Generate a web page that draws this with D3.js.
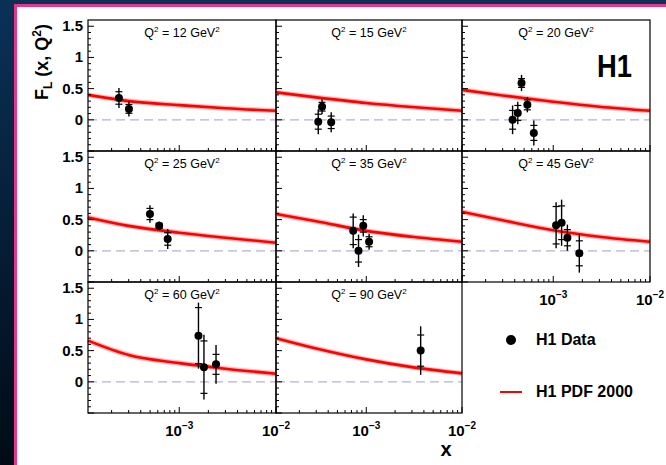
<!DOCTYPE html>
<html><head><meta charset="utf-8">
<script src="https://cdn.jsdelivr.net/npm/d3@7"></script>
<style>
html,body{margin:0;padding:0;background:#fff;}
svg{display:block;}
text{font-family:"Liberation Sans",Arial,Helvetica,sans-serif;}
</style></head>
<body>
<svg id="chart" width="666" height="465"></svg>
<script>
// ---- data ----
const q2Values = [12, 15, 20, 25, 35, 45, 60, 90];
const dataX = [
  [2.38e-4, 3.02e-4],
  [3.15e-4, 3.45e-4, 4.3e-4],
  [3.8e-4, 4.3e-4, 4.7e-4, 5.4e-4, 6.3e-4],
  [4.98e-4, 6.2e-4, 7.6e-4],
  [7.3e-4, 8.3e-4, 9.3e-4, 1.07e-3],
  [1.07e-3, 1.22e-3, 1.4e-3, 1.86e-3],
  [1.58e-3, 1.8e-3, 2.4e-3],
  [3.7e-3]
];
const dataFL = [
  [0.35, 0.175],
  [-0.03, 0.21, -0.04],
  [0.0, 0.11, 0.59, 0.24, -0.21],
  [0.59, 0.40, 0.19],
  [0.32, 0.0, 0.40, 0.145],
  [0.41, 0.45, 0.21, -0.04],
  [0.74, 0.235, 0.28],
  [0.50]
];
const statErr = [
  [0.10, 0.07],
  [0.12, 0.07, 0.10],
  [0.15, 0.12, 0.07, 0.08, 0.12],
  [0.09, 0.04, 0.10],
  [0.22, 0.18, 0.10, 0.08],
  [0.30, 0.27, 0.13, 0.20],
  [0.45, 0.42, 0.16],
  [0.25]
];
const totErr = [
  [0.16, 0.12],
  [0.20, 0.12, 0.16],
  [0.23, 0.18, 0.13, 0.12, 0.20],
  [0.14, 0.07, 0.16],
  [0.28, 0.26, 0.17, 0.13],
  [0.37, 0.37, 0.21, 0.31],
  [0.53, 0.52, 0.31],
  [0.39]
];
const theoryX = [1.14e-4, 3e-4, 1e-3, 3e-3, 1e-2];
const theoryFL = [
  [0.40, 0.30, 0.235, 0.185, 0.145],
  [0.44, 0.36, 0.27, 0.205, 0.145],
  [0.48, 0.39, 0.29, 0.21, 0.145],
  [0.535, 0.40, 0.29, 0.21, 0.13],
  [0.59, 0.475, 0.32, 0.225, 0.145],
  [0.625, 0.49, 0.33, 0.225, 0.145],
  [0.66, 0.43, 0.30, 0.21, 0.13],
  [0.70, 0.535, 0.36, 0.235, 0.135]
];
const yTickLabels = ["0", "0.5", "1", "1.5"];
const yTickValues = [0, 0.5, 1, 1.5];
const xTickExps = [-3, -2];
const legendLabels = ["H1 Data", "H1 PDF 2000"];

// ---- layout ----
const svg = d3.select("#chart");
const defs = svg.append("defs");
const grad = defs.append("linearGradient").attr("id","bg").attr("x1",0).attr("y1",0).attr("x2",0).attr("y2",1);
grad.append("stop").attr("offset","0%").attr("stop-color","#0b3157");
grad.append("stop").attr("offset","100%").attr("stop-color","#000b17");
svg.append("rect").attr("width",666).attr("height",465).attr("fill","url(#bg)");
svg.append("rect").attr("x",14).attr("y",4).attr("width",652).attr("height",461).attr("fill","#e8358c");
svg.append("rect").attr("x",17).attr("y",7).attr("width",649).attr("height",458).attr("fill","#ffffff");

const colX = [88, 276, 462], colW = [188, 186, 188];
const rowY = [20, 151, 282], rowH = 131;
const yDomain = [-0.5, 1.6];
const xDomain = [1.14e-4, 1e-2];

q2Values.forEach((q2, i) => {
  const row = Math.floor(i / 3), col = i % 3;
  const x0 = colX[col], w = colW[col], y0 = rowY[row];
  const x = d3.scaleLog().domain(xDomain).range([x0, x0 + w]);
  const y = d3.scaleLinear().domain(yDomain).range([y0 + rowH, y0]);
  const g = svg.append("g");

  // zero dashed line
  g.append("line").attr("x1",x0).attr("x2",x0+w).attr("y1",y(0)).attr("y2",y(0))
    .attr("stroke","#b3b3d3").attr("stroke-width",1.3).attr("stroke-dasharray","9,5");

  // theory curve
  const pts = theoryX.map((xv, k) => [xv, theoryFL[i][k]]);
  const line = d3.line().x(d => x(d[0])).y(d => y(d[1])).curve(d3.curveMonotoneX);
  g.append("path").attr("d", line(pts)).attr("fill","none").attr("stroke","#ffb3b3").attr("stroke-width",5);
  g.append("path").attr("d", line(pts)).attr("fill","none").attr("stroke","#ff0000").attr("stroke-width",2.6);

  // data points
  dataX[i].forEach((xv, k) => {
    const v = dataFL[i][k], s = statErr[i][k], t = totErr[i][k];
    const px = x(xv);
    g.append("line").attr("x1",px).attr("x2",px).attr("y1",y(v+t)).attr("y2",y(v-t))
      .attr("stroke","#000").attr("stroke-width",1.4);
    [v+s, v-s].forEach(e => g.append("line").attr("x1",px-3.5).attr("x2",px+3.5)
      .attr("y1",y(e)).attr("y2",y(e)).attr("stroke","#000").attr("stroke-width",1.2));
    g.append("circle").attr("cx",px).attr("cy",y(v)).attr("r",4).attr("fill","#000");
  });

  // frame
  g.append("rect").attr("x",x0).attr("y",y0).attr("width",w).attr("height",rowH)
    .attr("fill","none").attr("stroke","#000").attr("stroke-width",1.2);

  // y ticks
  d3.range(-5, 16).forEach(k => {
    const v = k / 10, major = (k % 5 === 0);
    g.append("line").attr("x1",x0).attr("x2",x0 + (major ? 6 : 3)).attr("y1",y(v)).attr("y2",y(v))
      .attr("stroke","#000").attr("stroke-width",1);
  });
  // x ticks
  x.ticks().forEach(tv => {
    const lg = Math.log10(tv), major = Math.abs(lg - Math.round(lg)) < 1e-6;
    g.append("line").attr("x1",x(tv)).attr("x2",x(tv)).attr("y1",y0+rowH).attr("y2",y0+rowH-(major?6:3))
      .attr("stroke","#000").attr("stroke-width",1);
  });

  // y tick labels
  if (col === 0) {
    yTickValues.forEach((v, k) => {
      g.append("text").attr("x",x0-5).attr("y",y(v)+5).attr("text-anchor","end")
        .attr("font-size",15).attr("font-weight","bold").text(yTickLabels[k]);
    });
  }
  // x tick labels
  if (row === 2 || (row === 1 && col === 2)) {
    xTickExps.forEach(e => {
      const t = g.append("text").attr("x",x(Math.pow(10,e))).attr("y",y0+rowH+23)
        .attr("text-anchor","middle").attr("font-weight","bold").attr("font-size",15);
      t.append("tspan").text("10");
      t.append("tspan").attr("dy",-7).attr("font-size",10).text("\u2212" + Math.abs(e));
    });
  }

  // panel title
  const tt = g.append("text").attr("x",x0 + w/2).attr("y",y0+17).attr("text-anchor","middle")
    .attr("font-size",12.5);
  tt.append("tspan").text("Q");
  tt.append("tspan").attr("dy",-5).attr("font-size",8).text("2");
  tt.append("tspan").attr("dy",5).text(" = " + q2 + " GeV");
  tt.append("tspan").attr("dy",-5).attr("font-size",8).text("2");
});

// H1 logo
svg.append("text").attr("x",632).attr("y",77).attr("text-anchor","end").attr("font-size",32)
  .attr("font-weight","bold").attr("textLength",35).attr("lengthAdjust","spacingAndGlyphs").text("H1");

// Y axis title
const yt = svg.append("text").attr("transform","translate(48,62) rotate(-90)").attr("text-anchor","middle")
  .attr("font-size",18).attr("font-weight","bold");
yt.append("tspan").text("F");
yt.append("tspan").attr("dy",4).attr("font-size",12).text("L");
yt.append("tspan").attr("dy",-4).text(" (x, Q");
yt.append("tspan").attr("dy",-7).attr("font-size",12).text("2");
yt.append("tspan").attr("dy",7).text(")");

// X axis title
svg.append("text").attr("x",446).attr("y",456).attr("text-anchor","middle").attr("font-size",20)
  .attr("font-weight","bold").text("x");

// legend
svg.append("circle").attr("cx",511).attr("cy",340).attr("r",5).attr("fill","#000");
svg.append("text").attr("x",536).attr("y",345).attr("font-size",16).attr("font-weight","bold").text(legendLabels[0]);
svg.append("line").attr("x1",500).attr("x2",522).attr("y1",392).attr("y2",392).attr("stroke","#ff0000").attr("stroke-width",2);
svg.append("text").attr("x",536).attr("y",397).attr("font-size",16).attr("font-weight","bold").text(legendLabels[1]);
</script>
</body></html>
